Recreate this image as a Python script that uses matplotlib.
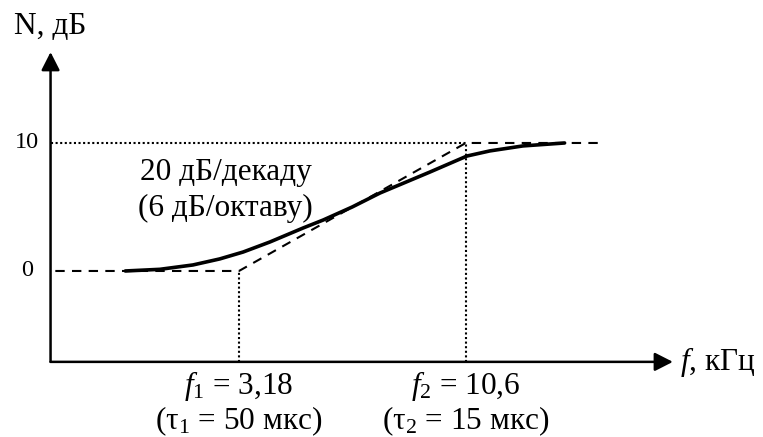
import numpy as np
import matplotlib.pyplot as plt

plt.rcParams['font.family'] = ['Liberation Serif', 'DejaVu Serif']
plt.rcParams['mathtext.fontset'] = 'custom'
plt.rcParams['mathtext.rm'] = 'Liberation Serif'
plt.rcParams['mathtext.it'] = 'Liberation Serif:italic'

# Frequency response (f in kHz, N in dB)
f_curve = [1.74, 2.09, 2.49, 2.87, 3.25, 3.75, 4.47, 4.97, 5.8, 6.72, 8.76, 10.66, 12.04, 14.35, 17.9]
n_curve = [0.0, 0.13, 0.47, 0.94, 1.48, 2.27, 3.36, 3.98, 5.0, 6.09, 7.73, 8.98, 9.38, 9.77, 10.0]

# Asymptotes
f_asym = [1.2, 3.18, 10.6, 22.1]
n_asym = [0, 0, 10, 10]

f1, f2 = 3.18, 10.6
n_ticks = [0, 10]
tick_labels = ['0', '10']

FS = 22.5

fig = plt.figure(figsize=(7.63, 4.37), dpi=100)
ax = fig.add_axes([0, 0, 1, 1])
ax.set_xscale('log')
ax.set_xlim(0.8947, 51.3)
ax.set_ylim(-12.97, 21.17)
ax.axis('off')

x0, y0 = 1.17, -7.1  # axis origin

# axes with arrows
arrow = dict(arrowstyle='-|>,head_length=0.55,head_width=0.28', lw=1.8,
             color='k', mutation_scale=20, shrinkA=0, shrinkB=0)
ax.annotate('', xy=(31.8, y0), xytext=(x0, y0), arrowprops=arrow)
ax.annotate('', xy=(x0, 17.1), xytext=(x0, y0), arrowprops=arrow)

# guide lines
dot = dict(color='k', lw=1.5, linestyle=(0, (1, 1.2)))
ax.plot([x0, f2], [10, 10], **dot)
ax.plot([f1, f1], [y0, 0], **dot)
ax.plot([f2, f2], [y0, 10], **dot)

ax.plot(f_asym, n_asym, color='k', lw=1.5, linestyle=(0, (4.5, 3.5)))
ax.plot(f_curve, n_curve, color='k', lw=2.6, solid_capstyle='round')

# labels
ax.text(1.17, 19.1, 'N, дБ', fontsize=FS, ha='center', va='center')
for v, lab in zip(n_ticks, tick_labels):
    ax.text(1.033, v, lab, fontsize=17.5, ha='center', va='center')
ax.text(1.881, 7.7, '20 дБ/декаду', fontsize=FS, ha='left', va='center')
ax.text(1.861, 4.9, '(6 дБ/октаву)', fontsize=FS, ha='left', va='center')
ax.text(f1, -8.95, '$f_1$ = 3,18', fontsize=FS, ha='center', va='center')
ax.text(f1, -11.75, '(τ$_1$ = 50 мкс)', fontsize=FS, ha='center', va='center')
ax.text(f2, -8.95, '$f_2$ = 10,6', fontsize=FS, ha='center', va='center')
ax.text(f2, -11.75, '(τ$_2$ = 15 мкс)', fontsize=FS, ha='center', va='center')
ax.text(33.0, -7.1, '$f$, кГц', fontsize=FS, ha='left', va='center')

fig.savefig('out.png', dpi=100)
